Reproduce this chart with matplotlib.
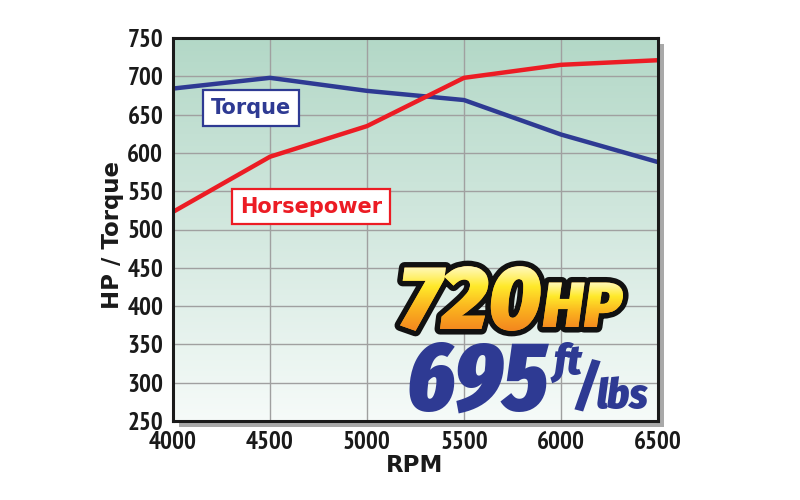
import numpy as np
import matplotlib
matplotlib.use('Agg')
import matplotlib.pyplot as plt
import matplotlib.patheffects as pe
from matplotlib import font_manager
from matplotlib.colors import LinearSegmentedColormap
from matplotlib.font_manager import FontProperties
from matplotlib.patches import PathPatch, Rectangle
from matplotlib.path import Path
from matplotlib.textpath import TextPath

# data
rpm = [4000, 4500, 5000, 5500, 6000, 6500]
torque = [684, 698, 681, 669, 624, 588]
horsepower = [523, 595, 635, 698, 715, 721]
yticks = [250, 300, 350, 400, 450, 500, 550, 600, 650, 700, 750]
xticks = [4000, 4500, 5000, 5500, 6000, 6500]

BLUE = '#2e3a93'
RED = '#ec1c24'

have = {f.name for f in font_manager.fontManager.ttflist}


def pick(*names):
    for n in names:
        if n in have:
            return n
    return 'DejaVu Sans'


narrow = pick('PT Sans Narrow', 'Roboto Condensed', 'Fira Sans Condensed')
heavy = pick('Fira Sans Extra Condensed', 'Roboto Condensed', 'Fira Sans Condensed')
mid = pick('Fira Sans Condensed', 'Roboto Condensed', 'Fira Sans Extra Condensed')
wide = pick('Fira Sans', 'Roboto', 'Fira Sans Condensed')

fig = plt.figure(figsize=(8, 5), dpi=100)
fig.patch.set_facecolor('white')

# drop shadow behind the plot frame
fig.add_artist(Rectangle((179 / 800, 73 / 500), 485 / 800, 383 / 500,
                         transform=fig.transFigure, facecolor='#a9a9a9',
                         edgecolor='none', zorder=-1))

ax = fig.add_axes([173 / 800, 79 / 500, 485 / 800, 383 / 500])
bg = LinearSegmentedColormap.from_list('bg', ['#b3d8c7', '#d3e8df', '#f6fbf9'])
ax.imshow(np.linspace(0, 1, 256).reshape(-1, 1), cmap=bg, aspect='auto',
          extent=(4000, 6500, 250, 750), zorder=0)

ax.plot(rpm, torque, color=BLUE, lw=3.2, zorder=3, solid_capstyle='butt')
ax.plot(rpm, horsepower, color=RED, lw=3.2, zorder=3, solid_capstyle='butt')

ax.set_xlim(4000, 6500)
ax.set_ylim(250, 750)
ax.set_xticks(xticks)
ax.set_yticks(yticks)
ax.grid(True, color='#a0a0a0', lw=1.0, zorder=1)
ax.set_axisbelow(True)
for sp in ax.spines.values():
    sp.set_linewidth(2.2)
    sp.set_color('#1a1a1a')
    sp.set_zorder(4)
ax.tick_params(length=0, labelsize=18)
ax.tick_params(axis='y', pad=7)
ax.tick_params(axis='x', pad=7.5)
for lab in ax.get_xticklabels() + ax.get_yticklabels():
    lab.set_family([narrow, 'DejaVu Sans'])
    lab.set_fontweight('bold')
    lab.set_color('#1a1a1a')

fig.text(113 / 800, 1 - 235 / 500, 'HP / Torque', rotation=90, ha='center',
         va='center', fontsize=16.5, fontweight='bold', color='#1a1a1a')
fig.text(415 / 800, 1 - 466 / 500, 'RPM', ha='center', va='center',
         fontsize=16.5, fontweight='bold', color='#1a1a1a')

# series labels in boxes
fig.text(251 / 800, 1 - 108 / 500, 'Torque', ha='center', va='center',
         fontsize=15, fontweight='bold', color=BLUE,
         bbox=dict(boxstyle='square,pad=0.4', fc='white', ec=BLUE, lw=1.6))
fig.text(311 / 800, 1 - 207 / 500, 'Horsepower', ha='center', va='center',
         fontsize=15, fontweight='bold', color=RED,
         bbox=dict(boxstyle='square,pad=0.36', fc='white', ec=RED, lw=1.6))

# overlay in pixel coordinates for the big headline numbers
ov = fig.add_axes([0, 0, 1, 1], zorder=10)
ov.set_xlim(0, 800)
ov.set_ylim(500, 0)
ov.axis('off')
ov.patch.set_visible(False)

renderer = fig.canvas.get_renderer()
gold = LinearSegmentedColormap.from_list('gold', ['#fffbd0', '#ffe92a', '#fbb21f', '#f3861e'])


def headline(s, x, base, size, color, family, outline=False, gradient=False):
    fp = FontProperties(family=[family, 'DejaVu Sans'], weight='black', style='italic', size=size)
    kw = {}
    if outline:
        kw['path_effects'] = [pe.withStroke(linewidth=8, foreground='#111111')]
    t = ov.text(x, base, s, fontproperties=fp, color=color, ha='left',
                va='baseline', zorder=6, **kw)
    if gradient:
        tp = TextPath((0, 0), s, size=size * 100 / 72, prop=fp)
        v = tp.vertices.copy()
        v[:, 0] += x
        v[:, 1] = base - v[:, 1]
        clip = PathPatch(Path(v, tp.codes), fc='none', ec='none', zorder=7)
        ov.add_patch(clip)
        top = v[:, 1].min()
        im = ov.imshow(np.linspace(0, 1, 128).reshape(-1, 1), cmap=gold, aspect='auto',
                       extent=(v[:, 0].min() - 2, v[:, 0].max() + 2, base + 2, top - 2),
                       zorder=7)
        im.set_clip_path(clip)
    bb = t.get_window_extent(renderer)
    return bb.x1


end = headline('720', 399, 329, 65, '#fbb21f', wide, outline=True, gradient=True)
headline('HP', end + 1, 327, 46, '#fbb21f', wide, outline=True, gradient=True)
end = headline('695', 406, 410, 70, BLUE, heavy)
end = headline('ft', end + 5, 374, 30, BLUE, mid)
end = headline('/', end - 7, 406, 40, BLUE, heavy)
headline('lbs', end - 2, 408, 30, BLUE, mid)

ov.set_xlim(0, 800)
ov.set_ylim(500, 0)

fig.savefig('out.png', dpi=100)
